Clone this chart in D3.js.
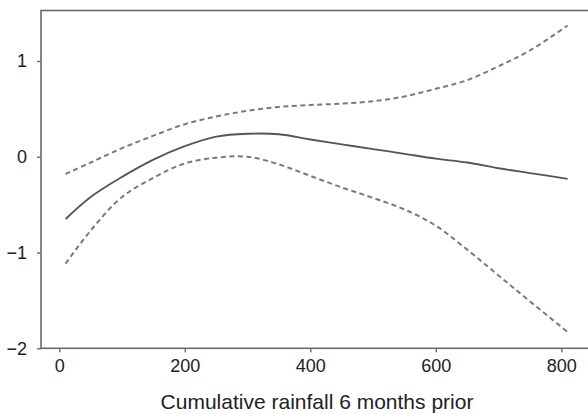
<!DOCTYPE html>
<meta charset="utf-8">
<script src="https://d3js.org/d3.v7.min.js"></script>
<style>
  body { margin: 0; background: #fff; }
  svg text { font-family: "Liberation Sans", Arial, sans-serif; fill: #222; }
</style>
<div id="chart"></div>
<script>

    const rainfall = [10, 50, 100, 150, 200, 250, 300, 350, 400, 450, 500, 550, 600, 650, 700, 750, 810];

    // fitted effect and its upper / lower confidence bands
    const fit = [-0.65, -0.42, -0.21, -0.03, 0.11, 0.21, 0.24, 0.235, 0.18, 0.13, 0.08, 0.03, -0.02, -0.06, -0.12, -0.17, -0.23];
    const upper = [-0.18, -0.06, 0.09, 0.22, 0.34, 0.42, 0.48, 0.52, 0.54, 0.555, 0.58, 0.63, 0.71, 0.80, 0.945, 1.11, 1.37];
    const lower = [-1.115, -0.77, -0.42, -0.22, -0.07, -0.01, 0.0, -0.08, -0.2, -0.32, -0.43, -0.55, -0.72, -0.97, -1.24, -1.51, -1.83];

    const xTicks = [0, 200, 400, 600, 800];
    const yTicks = [1, 0, -1, -2];
    const xTitle = "Cumulative rainfall 6 months prior";

    const width = 588, height = 414;
    const plot = { left: 41, top: 10.5, bottom: 348.3, right: 600 };

    const svg = d3.select("#chart")
        .append("svg")
        .attr("width", width)
        .attr("height", height);

    // scales
    const x = d3.scaleLinear()
        .domain([-29.2, 842.5])
        .range([plot.left, 588]);

    const y = d3.scaleLinear()
        .domain([-2, 1.527])
        .range([plot.bottom, plot.top]);

    // frame (right side runs off the picture)
    svg.append("rect")
        .attr("x", plot.left)
        .attr("y", plot.top)
        .attr("width", plot.right - plot.left)
        .attr("height", plot.bottom - plot.top)
        .attr("fill", "none")
        .attr("stroke", "#6a6a6a")
        .attr("stroke-width", 1.6);

    // X axis
    const xAxis = svg.append("g")
        .attr("transform", `translate(0, ${plot.bottom})`)
        .call(d3.axisBottom(x).tickValues(xTicks).tickSize(4).tickPadding(7).tickFormat(d3.format("d")));
    xAxis.select(".domain").remove();
    xAxis.selectAll("line").attr("stroke", "#6a6a6a").attr("stroke-width", 1.4);
    xAxis.selectAll("text").style("font-size", "18px");

    // Y axis
    const yAxis = svg.append("g")
        .attr("transform", `translate(${plot.left}, 0)`)
        .call(d3.axisLeft(y).tickValues(yTicks).tickSize(4).tickPadding(10)
            .tickFormat(function (d) { return d < 0 ? "\u2212" + Math.abs(d) : d; }));
    yAxis.select(".domain").remove();
    yAxis.selectAll("line").attr("stroke", "#6a6a6a").attr("stroke-width", 1.4);
    yAxis.selectAll("text").style("font-size", "18px");

    // axis title
    svg.append("text")
        .attr("x", 317)
        .attr("y", 409)
        .attr("text-anchor", "middle")
        .style("font-size", "21px")
        .text(xTitle);

    // curves
    function curveOf(values) {
        return d3.line()
            .x(function (d, i) { return x(rainfall[i]); })
            .y(function (d) { return y(d); })
            .curve(d3.curveCatmullRom.alpha(0.5))(values);
    }

    svg.append("path")
        .attr("d", curveOf(upper))
        .attr("fill", "none")
        .attr("stroke", "#7a7a7a")
        .attr("stroke-width", 2)
        .attr("stroke-dasharray", "5,3.5");

    svg.append("path")
        .attr("d", curveOf(lower))
        .attr("fill", "none")
        .attr("stroke", "#7a7a7a")
        .attr("stroke-width", 2)
        .attr("stroke-dasharray", "5,3.5");

    svg.append("path")
        .attr("d", curveOf(fit))
        .attr("fill", "none")
        .attr("stroke", "#555")
        .attr("stroke-width", 1.8);

</script>
